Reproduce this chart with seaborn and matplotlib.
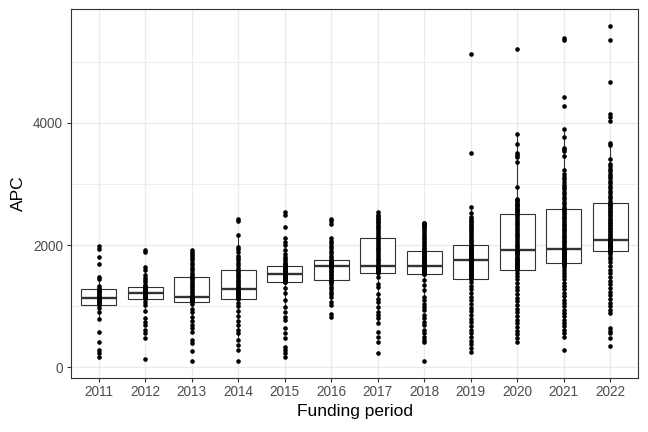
"""APC by funding period: boxplot with all points overlaid (ggplot theme_bw look)."""
import matplotlib
matplotlib.use("Agg")
import matplotlib.pyplot as plt
import pandas as pd
import seaborn as sns

periods = ["2011", "2012", "2013", "2014", "2015", "2016",
           "2017", "2018", "2019", "2020", "2021", "2022"]

apc_2011 = [169, 234, 288, 424, 587, 788, 913, 980, 1022,
            1040, 1060, 1075, 1090, 1100, 1115, 1125, 1131,
            1150, 1170, 1190, 1210, 1230, 1250, 1265, 1278,
            1300, 1331, 1440, 1483, 1690, 1810, 1935, 1989]

apc_2012 = [137, 479, 560, 614, 696, 750, 805, 929, 1022, 1076, 1115,
            1130, 1145, 1160, 1175, 1185, 1195, 1205, 1212, 1218, 1223,
            1232, 1242, 1252, 1262, 1272, 1282, 1292, 1300, 1308, 1315,
            1330, 1348, 1390, 1430, 1470, 1511, 1592, 1646, 1880, 1918]

apc_2013 = [109, 277, 397, 451, 587, 641, 700, 760, 830, 900, 960, 1030, 1076,
            1082, 1088, 1094, 1100, 1106, 1112, 1118, 1124, 1130, 1136, 1142, 1147,
            1175, 1205, 1235, 1265, 1295, 1325, 1355, 1385, 1415, 1440, 1460, 1473,
            1510, 1550, 1590, 1630, 1670, 1710, 1750, 1790, 1830, 1860, 1890, 1918]

apc_2014 = [109, 288, 370, 451, 560, 620, 690, 760, 840, 920, 1000, 1060, 1120,
            1135, 1150, 1165, 1180, 1195, 1210, 1225, 1240, 1255, 1265, 1275, 1283,
            1310, 1335, 1360, 1385, 1410, 1435, 1460, 1490, 1520, 1550, 1575, 1593,
            1630, 1670, 1710, 1750, 1790, 1830, 1880, 1930, 1973, 2163, 2400, 2430]

apc_2015 = [169, 234, 288, 342, 478, 560, 641, 777, 831, 913, 995, 1103, 1212, 1294, 1392,
            1400, 1410, 1420, 1430, 1440, 1450, 1460, 1470, 1480, 1490, 1500, 1508, 1515, 1522,
            1530, 1540, 1550, 1560, 1570, 1580, 1590, 1600, 1610, 1620, 1630, 1640, 1650, 1658,
            1670, 1690, 1710, 1740, 1770, 1810, 1860, 1918, 2000, 2055, 2109, 2290, 2491, 2535]

apc_2016 = [819, 868, 1022, 1076, 1157, 1200, 1240, 1280, 1320, 1360, 1390, 1410, 1430,
            1455, 1480, 1505, 1530, 1555, 1580, 1600, 1620, 1635, 1648, 1656, 1664,
            1672, 1680, 1688, 1696, 1704, 1712, 1720, 1728, 1736, 1743, 1749, 1755,
            1790, 1830, 1870, 1910, 1950, 1990, 2030, 2070, 2109, 2349, 2403, 2430]

apc_2017 = [231, 421, 502, 584, 720, 801, 855, 910, 991, 1073, 1127, 1209, 1318, 1372, 1480, 1549,
            1560, 1570, 1580, 1590, 1600, 1608, 1616, 1624, 1632, 1640, 1646, 1651, 1655, 1659, 1663,
            1690, 1720, 1750, 1780, 1810, 1840, 1870, 1900, 1930, 1960, 1990, 2020, 2050, 2080, 2109,
            2140, 2170, 2200, 2230, 2260, 2290, 2320, 2350, 2380, 2400, 2420, 2440, 2470, 2500, 2540]

apc_2018 = [106, 421, 448, 503, 557, 611, 693, 747, 802, 856, 938, 992, 1046, 1101, 1155,
            1264, 1345, 1427, 1522,
            1530, 1538, 1546, 1554, 1562, 1570, 1578, 1586, 1594, 1602, 1610, 1618, 1626,
            1634, 1642, 1650, 1657, 1663,
            1675, 1690, 1705, 1720, 1735, 1750, 1765, 1780, 1795, 1810, 1825, 1840, 1852,
            1864, 1876, 1886, 1895, 1902,
            1930, 1960, 1990, 2020, 2050, 2080, 2110, 2140, 2170, 2200, 2230, 2260, 2290,
            2310, 2330, 2345, 2360, 2370]

apc_2019 = [261, 320, 385, 440, 505, 560, 615, 680, 740, 800, 865, 920, 980, 1040, 1100,
            1160, 1225, 1280, 1340, 1400, 1446,
            1460, 1476, 1492, 1508, 1524, 1540, 1556, 1572, 1588, 1604, 1620, 1636, 1652,
            1668, 1684, 1700, 1716, 1732, 1748, 1760,
            1772, 1784, 1796, 1808, 1820, 1832, 1844, 1856, 1868, 1880, 1892, 1904, 1916,
            1928, 1940, 1952, 1964, 1976, 1988, 1998,
            2030, 2060, 2090, 2120, 2150, 2180, 2210, 2240, 2270, 2290, 2320, 2350, 2380,
            2400, 2430, 2460, 2520, 2624, 3510, 5124]

apc_2020 = [424, 480, 540, 600, 660, 720, 780, 840, 900, 960, 1020, 1080, 1140, 1200,
            1260, 1320, 1380, 1440, 1500, 1550, 1593,
            1610, 1627, 1644, 1661, 1678, 1695, 1712, 1729, 1746, 1763, 1780, 1797, 1814,
            1831, 1848, 1865, 1882, 1899, 1910, 1918,
            1950, 1980, 2010, 2040, 2070, 2100, 2130, 2160, 2190, 2220, 2250, 2280, 2310,
            2340, 2370, 2400, 2430, 2460, 2490, 2516,
            2535, 2555, 2575, 2595, 2615, 2635, 2655, 2675, 2695, 2715, 2738, 2761, 2950,
            3358, 3440, 3480, 3505, 3657, 3820, 5205]

apc_2021 = [288, 505, 560, 615, 670, 725, 780, 835, 890, 945, 1000, 1055, 1110, 1165,
            1220, 1275, 1330, 1385, 1440, 1495, 1550, 1600, 1640, 1670, 1695, 1711,
            1720, 1729, 1738, 1747, 1756, 1765, 1774, 1783, 1792, 1801, 1810, 1819, 1828,
            1837, 1846, 1855, 1864, 1873, 1882, 1891, 1900, 1909, 1917, 1925, 1932,
            1960, 1988, 2016, 2044, 2072, 2100, 2128, 2156, 2184, 2212, 2240, 2268, 2296,
            2324, 2352, 2380, 2408, 2436, 2464, 2492, 2520, 2548, 2570, 2585, 2595,
            2630, 2670, 2710, 2750, 2790, 2830, 2870, 2910, 2950, 2990, 3030, 3080, 3120,
            3169, 3222, 3451, 3537, 3565, 3592, 3765, 3902, 4282, 4429, 5353, 5395]

apc_2022 = [354, 479, 560, 600, 642, 887, 945, 1000, 1060, 1120, 1180, 1240, 1300, 1360,
            1420, 1480, 1540, 1600, 1660, 1720, 1770, 1810, 1850, 1880, 1898, 1910,
            1917, 1924, 1931, 1938, 1945, 1952, 1959, 1966, 1973, 1980, 1987, 1994, 2001,
            2008, 2015, 2022, 2029, 2036, 2043, 2050, 2057, 2064, 2071, 2077, 2082,
            2110, 2135, 2160, 2185, 2210, 2235, 2260, 2285, 2310, 2335, 2360, 2385, 2410,
            2435, 2460, 2485, 2510, 2535, 2560, 2585, 2610, 2635, 2660, 2678, 2690,
            2730, 2770, 2810, 2850, 2890, 2930, 2970, 3010, 3050, 3090, 3130, 3170, 3210,
            3250, 3290, 3330, 3413, 3630, 3667, 4037, 4100, 4147, 4673, 5353, 5580]

series = [apc_2011, apc_2012, apc_2013, apc_2014, apc_2015, apc_2016,
          apc_2017, apc_2018, apc_2019, apc_2020, apc_2021, apc_2022]
df = pd.concat([pd.DataFrame({"period": p, "APC": v}) for p, v in zip(periods, series)],
               ignore_index=True)

sns.set_theme(style="white")
plt.rcParams["font.family"] = ["Liberation Sans", "DejaVu Sans"]

dark = "#333333"
fig = plt.figure(figsize=(6.48, 4.32), dpi=100)
ax = fig.add_axes([0.1096, 0.126, 0.875, 0.853])

sns.boxplot(data=df, x="period", y="APC", order=periods, color="white", width=0.75,
            showfliers=False, showcaps=False, linecolor=dark, linewidth=0.8,
            medianprops={"linewidth": 1.7, "color": dark}, ax=ax)
sns.stripplot(data=df, x="period", y="APC", order=periods, jitter=False,
              color="black", size=3.3, linewidth=0, zorder=3, ax=ax)

ax.set_xlim(-0.6, 11.6)
ax.set_ylim(-165, 5860)
ax.set_yticks([0, 2000, 4000])
ax.set_yticks([1000, 3000, 5000], minor=True)
ax.set_axisbelow(True)
ax.grid(which="major", color="#EBEBEB", linewidth=1.0)
ax.grid(which="minor", axis="y", color="#EBEBEB", linewidth=0.6)

for s in ax.spines.values():
    s.set_color(dark)
    s.set_linewidth(0.8)
ax.tick_params(axis="both", which="major", length=3.2, width=0.8, color=dark,
               labelcolor="#4D4D4D", labelsize=9.8, pad=2.5, bottom=True, left=True)
ax.tick_params(which="minor", length=0)

ax.set_xlabel("Funding period", fontsize=12.5, color="black", labelpad=3)
ax.set_ylabel("APC", fontsize=12.5, color="black", labelpad=5)

fig.savefig("out.png", dpi=100)
plt.close(fig)
